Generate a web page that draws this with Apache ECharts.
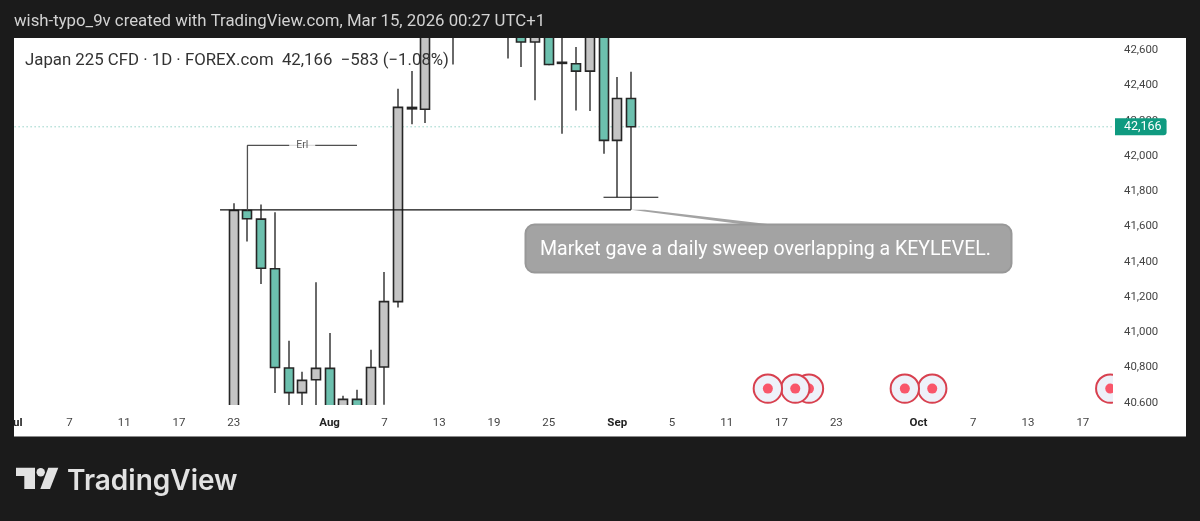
<!DOCTYPE html>
<html><head><meta charset="utf-8">
<style>html,body{margin:0;padding:0;background:#1b1b1b}#c{width:1200px;height:521px}</style>
<script src="https://cdn.jsdelivr.net/npm/echarts@6/dist/echarts.min.js"></script>
</head><body><div id="c"></div>
<script>
const barIndex = [16,17,18,19,20,21,22,23,24,25,26,27,28,29,30,31,32,33,34,35,36,37,38,39,40,41,42,43,44,45];
const opens  = [40400,41691,41642,41360,40797,40657,40730,40795,40500,40619,40530,40803,41174,42276,42266,42780,42820,42760,42820,42780,42740,42720,42647,42720,42532,42524,42482,42750,42089,42327];
const closes = [41691,41644,41363,40800,40657,40727,40795,40500,40619,40530,40800,41174,42276,42268,42780,42820,42760,42820,42780,42740,42720,42647,42720,42520,42526,42482,42750,42089,42327,42166];
const lows   = [40350,41515,41274,40655,40540,40540,40550,40460,40470,40490,40490,40589,41141,42180,42187,42700,42519,42690,42700,42690,42553,42505,42316,42515,42127,42259,42255,42013,41766,41695];
const highs  = [41732,41691,41725,41681,40952,40776,41284,40996,40640,40674,40901,41342,42382,42482,42900,42900,42900,42880,42880,42830,42800,42760,42780,42760,42700,42619,42800,42790,42448,42479];
const tickIndex = [0,4,8,12,16,23,27,31,35,39,44,48,52,56,60,66,70,74,78];
const tickLabels = ['Jul','7','11','17','23','Aug','7','13','19','25','Sep','5','11','17','23','Oct','7','13','17'];
const priceTicks = [40600,40800,41000,41200,41400,41600,41800,42000,42200,42400,42600];
const lastPrice = 42166;
const keyLevel = [[15,41695],[45,41695]];
const sweepLevel = [[43,41766],[47,41766]];
const erlBracket = [[17,41691],[17,42060],[25,42060]];
const erlLabel = [[21,42060]];
const eventIndex = [80,67,65,58,57,55];
const eventPrice = 40680;

const UP='#c4c4c4', DOWN='#6cc0ae', DARK='#e2e2e2', BG='#1b1b1b';
const chart = echarts.init(document.getElementById('c'), null, {renderer:'canvas'});
const ff = 'Roboto';
const drawing = {type:'line', symbol:'none', silent:true, z:3, animation:false};
chart.setOption({
  animation:false,
  backgroundColor:BG,
  textStyle:{fontFamily:ff},
  grid:{left:14, top:38, width:1099, height:367, containLabel:false},
  title:[
    {text:'wish-typo_9v created with TradingView.com, Mar 15, 2026 00:27 UTC+1', left:14, top:13,
     textStyle:{color:'#d2d2d2', fontSize:16.77, fontWeight:400, fontFamily:ff}, padding:0},
    {text:'Japan 225 CFD · 1D · FOREX.com  42,166  −583 (−1.08%)', left:25, top:52,
     textStyle:{color:'#333', fontSize:16.8, fontWeight:400, fontFamily:ff}, padding:0, z:20},
    {text:'TradingView', left:67, top:468,
     textStyle:{color:DARK, fontSize:28, fontWeight:600, fontFamily:'Inter'}, padding:0}
  ],
  xAxis:{type:'value', min:-0.044, max:80.2, splitLine:{show:false}, axisLine:{show:false}, axisTick:{show:false},
    axisLabel:{customValues:tickIndex, margin:12, color:'#444', fontSize:11.5, fontFamily:ff,
      formatter:v=>{const l=tickLabels[tickIndex.indexOf(v)]; return isNaN(+l)?'{m|'+l+'}':l;},
      rich:{m:{fontWeight:700,color:'#222',fontSize:11.5,fontFamily:ff}}}},
  yAxis:{type:'value', position:'right', min:40587, max:42670, splitLine:{show:false}, axisLine:{show:false}, axisTick:{show:false},
    axisLabel:{customValues:priceTicks, margin:11, color:'#444', fontSize:11.4, fontFamily:ff, padding:[4,0,0,0],
      formatter:v=>v.toLocaleString('en-US')}},
  series:[
    {type:'custom', silent:true, z:2, clip:true,
     data:barIndex.map((x,i)=>[x,opens[i],closes[i],lows[i],highs[i]]),
     encode:{x:0,y:[1,2,3,4]},
     renderItem:(p,api)=>{
       const x=api.value(0), o=api.value(1), c=api.value(2);
       const a=api.coord([x,o]), b=api.coord([x,c]), l=api.coord([x,api.value(3)]), h=api.coord([x,api.value(4)]);
       const cx=Math.round(a[0]);
       const top=Math.min(a[1],b[1]), bot=Math.max(a[1],b[1]);
       return {type:'group',children:[
         {type:'line',shape:{x1:cx,y1:h[1],x2:cx,y2:l[1]},style:{stroke:'#505050',lineWidth:1.7}},
         {type:'rect',shape:{x:cx-4.5,y:top,width:9,height:bot-top},style:{fill:c>=o?UP:DOWN,stroke:'#262626',lineWidth:1.6}}
       ]};}},
    Object.assign({}, drawing, {data:[[0,lastPrice],[80.2,lastPrice]],
       lineStyle:{type:[1,3], color:'#5fbcaa', width:1}, z:1,
       endLabel:{show:true, distance:2, formatter:'42,166', color:'#fff', fontSize:12.5, fontFamily:ff,
         backgroundColor:'#0f9a80', padding:[2,5,2,9], borderRadius:[0,3,3,0]}}),
    Object.assign({}, drawing, {data:keyLevel, lineStyle:{color:'#111', width:1.2}}),
    Object.assign({}, drawing, {data:sweepLevel, lineStyle:{color:'#111', width:1.2}}),
    Object.assign({}, drawing, {data:erlBracket, lineStyle:{color:'#505050', width:1.3}}),
    {type:'scatter', silent:true, symbolSize:0, z:4, data:erlLabel,
     label:{show:true, position:'inside', formatter:'Erl', color:'#333', fontSize:10.5, fontFamily:ff, backgroundColor:'#fff', padding:[1,7]}},
    {type:'custom', silent:true, z:5, clip:true, data:eventIndex.map(i=>[i,eventPrice]), encode:{x:0,y:1},
     renderItem:(p,api)=>{const c=api.coord([api.value(0),api.value(1)]);
       return {type:'group',children:[
         {type:'circle',shape:{cx:c[0],cy:c[1],r:14.2},style:{fill:'#eef1f9',stroke:'#d8404f',lineWidth:2}},
         {type:'circle',shape:{cx:c[0],cy:c[1],r:5},style:{fill:'#f9566a'}}]};}}
  ]
});
const tip = chart.convertToPixel({xAxisIndex:0,yAxisIndex:0}, keyLevel[1]);
chart.setOption({graphic:[
    {type:'rect', z:-10, shape:{x:14,y:38,width:1172,height:398}, style:{fill:'#fff'}, silent:true},
    {type:'rect', z:-9, shape:{x:14,y:436,width:1172,height:1}, style:{fill:'#8a8a8a'}, silent:true},
    {type:'rect', z:100, shape:{x:0,y:38,width:14,height:398}, style:{fill:BG}, silent:true},
    {type:'rect', z:100, shape:{x:1113,y:406,width:73,height:30}, style:{fill:'#fff'}, silent:true},
    {type:'polygon', z:10, shape:{points:[[16,467.7],[35,467.7],[35,489],[24.3,489],[24.3,476],[16,476]]}, style:{fill:DARK}, silent:true},
    {type:'circle', z:10, shape:{cx:40.7,cy:472.3,r:4.2}, style:{fill:DARK}, silent:true},
    {type:'polygon', z:10, shape:{points:[[48.3,467.7],[58.3,467.7],[50,489],[40.3,489]]}, style:{fill:DARK}, silent:true},
    {type:'polygon', z:10, shape:{points:[[tip[0],tip[1]],[tip[0]+14,tip[1]],[776,225],[748,225]]}, style:{fill:'#a3a3a3'}, silent:true},
    {type:'rect', z:10, shape:{x:525.5,y:224.5,width:486,height:48,r:9}, style:{fill:'#a3a3a3',stroke:'#989898',lineWidth:2}, silent:true},
    {type:'text', z:11, x:540, y:250, style:{text:'Market gave a daily sweep overlapping a KEYLEVEL.', fill:'#fff', font:'400 19.55px Roboto', textVerticalAlign:'middle'}, silent:true}
]});
</script></body></html>
